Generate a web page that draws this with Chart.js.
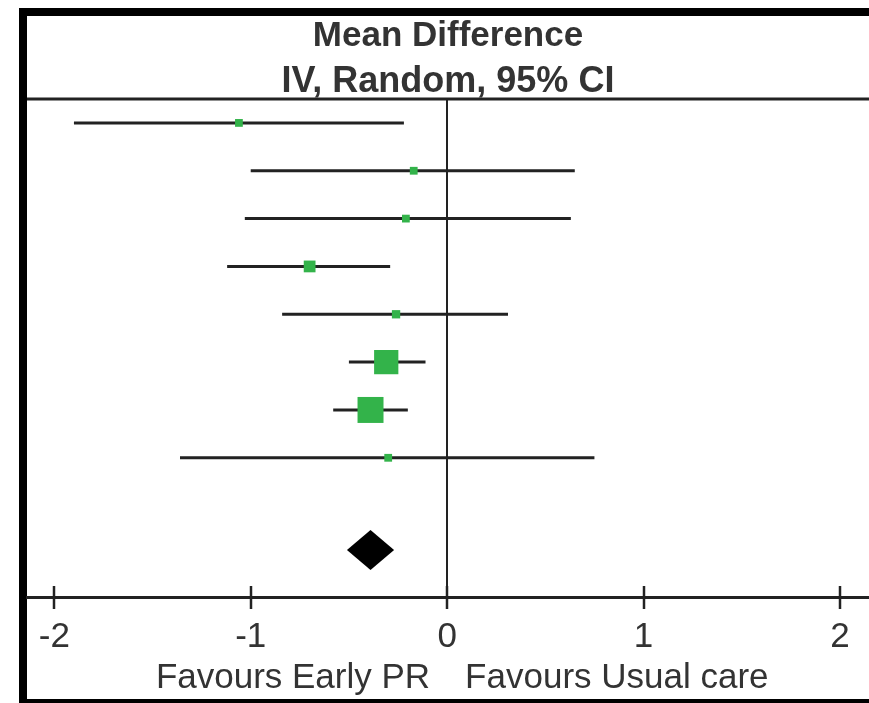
<!DOCTYPE html>
<html>
<head>
<meta charset="utf-8">
<script src="https://cdn.jsdelivr.net/npm/chart.js@4/dist/chart.umd.min.js"></script>
<style>
  html, body { margin: 0; padding: 0; background: #fff; }
</style>
</head>
<body>
<canvas id="graficoForest" width="869" height="703"></canvas>
<script>
// Datos del forest plot
const filas = [1, 2, 3, 4, 5, 6, 7, 8];
const estimacion = [-1.06, -0.17, -0.21, -0.70, -0.26, -0.31, -0.39, -0.30];
const icInferior = [-1.90, -1.00, -1.03, -1.12, -0.84, -0.50, -0.58, -1.36];
const icSuperior = [-0.22, 0.65, 0.63, -0.29, 0.31, -0.11, -0.20, 0.75];
const pesos = [3.5, 3.5, 3.5, 8, 4, 34, 39, 3.5];

// Estimacion combinada (diamante)
const filaTotal = 9.93;
const totalEstimacion = -0.39;
const totalInferior = -0.51;
const totalSuperior = -0.27;

const ticksX = [-2, -1, 0, 1, 2];
const titulo = ["Mean Difference", "IV, Random, 95% CI"];
const etiquetaIzq = "Favours Early PR";
const etiquetaDer = "Favours Usual care";

const fuente = '"Liberation Sans", Arial, sans-serif';
const verde = "#33b34a";
const oscuro = "#222";

// lineas de los intervalos, cortadas con un punto nulo
const lineasIC = [];
filas.forEach((f, i) => {
    lineasIC.push({ x: icInferior[i], y: f });
    lineasIC.push({ x: icSuperior[i], y: f });
    lineasIC.push({ x: icSuperior[i], y: null });
});

const cuadrados = filas.map((f, i) => ({ x: estimacion[i], y: f }));
// lado del cuadrado proporcional a la raiz del peso
const radios = pesos.map(w => 4.16 * Math.sqrt(w) / Math.SQRT2);

const pluginForest = {
    id: "pluginForest",
    beforeDraw(chart) {
        const ctx = chart.ctx;
        ctx.save();
        ctx.fillStyle = "#fff";
        ctx.fillRect(0, 0, chart.width, chart.height);
        ctx.fillStyle = "#000";
        ctx.fillRect(19, 8, 8, 695);
        ctx.fillRect(19, 8, 850, 8);
        ctx.fillRect(19, 699, 850, 4);
        ctx.restore();
    },
    afterDatasetsDraw(chart) {
        const ctx = chart.ctx;
        const xs = chart.scales.x;
        const ys = chart.scales.y;
        // diamante
        const cy = ys.getPixelForValue(filaTotal);
        ctx.save();
        ctx.fillStyle = "#000";
        ctx.beginPath();
        ctx.moveTo(xs.getPixelForValue(totalInferior), cy);
        ctx.lineTo(xs.getPixelForValue(totalEstimacion), cy - 20);
        ctx.lineTo(xs.getPixelForValue(totalSuperior), cy);
        ctx.lineTo(xs.getPixelForValue(totalEstimacion), cy + 20);
        ctx.closePath();
        ctx.fill();
        ctx.restore();
    },
    afterDraw(chart) {
        const ctx = chart.ctx;
        const area = chart.chartArea;
        const xs = chart.scales.x;
        ctx.save();
        // linea superior
        ctx.strokeStyle = oscuro;
        ctx.lineWidth = 3;
        ctx.beginPath();
        ctx.moveTo(area.left, area.top);
        ctx.lineTo(area.right, area.top);
        ctx.stroke();
        // marcas del eje que cruzan la linea
        ctx.lineWidth = 2.5;
        ticksX.forEach(v => {
            const px = Math.round(xs.getPixelForValue(v));
            ctx.beginPath();
            ctx.moveTo(px, area.bottom - 11);
            ctx.lineTo(px, area.bottom + 12);
            ctx.stroke();
        });
        // titulo
        const cx = (area.left + area.right) / 2;
        ctx.fillStyle = "#333";
        ctx.textAlign = "center";
        ctx.textBaseline = "middle";
        ctx.font = "bold 35px " + fuente;
        ctx.fillText(titulo[0], cx, 36);
        ctx.font = "bold 36px " + fuente;
        ctx.fillText(titulo[1], cx, 82);
        // etiquetas inferiores
        const cero = xs.getPixelForValue(0);
        ctx.font = "35px " + fuente;
        ctx.textAlign = "right";
        ctx.fillText(etiquetaIzq, cero - 17, 678);
        ctx.textAlign = "left";
        ctx.fillText(etiquetaDer, cero + 18, 678);
        ctx.restore();
    }
};

new Chart(document.getElementById("graficoForest"), {
    type: "scatter",
    data: {
        datasets: [{
            data: cuadrados,
            pointStyle: "rect",
            pointRadius: radios,
            backgroundColor: verde,
            borderWidth: 0,
            order: 0
        }, {
            data: lineasIC,
            showLine: true,
            spanGaps: false,
            borderColor: oscuro,
            borderWidth: 3,
            pointRadius: 0,
            order: 1
        }]
    },
    options: {
        responsive: false,
        animation: false,
        devicePixelRatio: 1,
        layout: { autoPadding: false, padding: { left: 27, right: 0, top: 99, bottom: 0 } },
        plugins: {
            legend: { display: false },
            tooltip: { enabled: false },
            title: { display: false }
        },
        scales: {
            x: {
                type: "linear",
                position: "bottom",
                min: -2.139,
                max: 2.148,
                afterBuildTicks: s => { s.ticks = ticksX.map(v => ({ value: v })); },
                afterFit: s => { s.height = 106; },
                grid: {
                    drawTicks: false,
                    lineWidth: 2,
                    color: c => (c.tick && c.tick.value === 0) ? oscuro : "rgba(0,0,0,0)"
                },
                border: { display: true, color: oscuro, width: 3 },
                ticks: {
                    padding: 19,
                    color: "#333",
                    autoSkip: false,
                    maxRotation: 0,
                    font: { family: fuente, size: 35 },
                    callback: v => String(v)
                }
            },
            y: {
                type: "linear",
                reverse: true,
                min: 0.5,
                max: 10.91,
                display: false
            }
        }
    },
    plugins: [pluginForest]
});
</script>
</body>
</html>
